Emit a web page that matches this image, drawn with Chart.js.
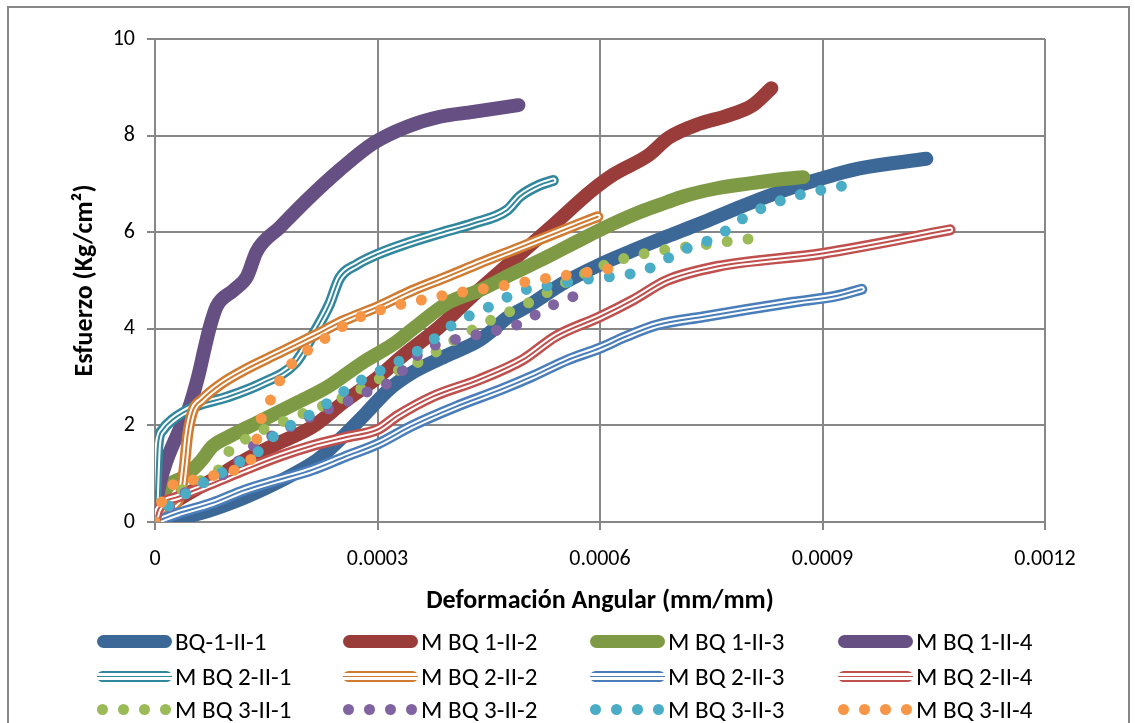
<!DOCTYPE html>
<html>
<head>
<meta charset="utf-8">
<script src="https://cdn.jsdelivr.net/npm/chart.js@4.4.0/dist/chart.umd.min.js"></script>
<style>
  body { margin: 0; background: #fff; }
  #wrap { position: relative; width: 1135px; height: 723px; overflow: hidden; font-family: Carlito, Calibri, Lato, sans-serif; }
  #frame { position: absolute; left: 7px; top: 6px; width: 1119px; height: 760px; border: 2px solid #878787; }
  #chart { position: absolute; left: 0; top: 0; }
  .item { position: absolute; height: 30px; display: flex; align-items: center; font-size: 25px; color: #000; white-space: nowrap; }
  .sample { position: relative; width: 75px; margin-right: 3px; flex-shrink: 0; }
  .dot { position: absolute; top: 0; width: 11px; height: 11px; border-radius: 50%; }
</style>
</head>
<body>
<div id="wrap">
  <div id="frame"></div>
  <canvas id="chart" width="1135" height="723"></canvas>
  <div id="legend"></div>
</div>
<script>
// series names, in legend order
const seriesNames = [
  "BQ-1-II-1", "M BQ 1-II-2", "M BQ 1-II-3", "M BQ 1-II-4",
  "M BQ 2-II-1", "M BQ 2-II-2", "M BQ 2-II-3", "M BQ 2-II-4",
  "M BQ 3-II-1", "M BQ 3-II-2", "M BQ 3-II-3", "M BQ 3-II-4",
];

// deformación angular (mm/mm) / esfuerzo (Kg/cm2)
const xBQ1_1 = [0, 0.00003, 0.00007, 0.00012, 0.00016, 0.00019, 0.00022, 0.00025, 0.000285, 0.000315, 0.00035, 0.000394, 0.000436, 0.000456, 0.000474, 0.000506, 0.00055, 0.000596, 0.000644, 0.00069, 0.000735, 0.000779, 0.000825, 0.00087, 0.000914, 0.00095, 0.00104];
const yBQ1_1 = [0, 0.07, 0.22, 0.5, 0.78, 1.02, 1.3, 1.72, 2.26, 2.74, 3.12, 3.45, 3.75, 3.98, 4.22, 4.5, 4.94, 5.3, 5.62, 5.91, 6.18, 6.46, 6.74, 6.98, 7.18, 7.32, 7.52];

const xBQ1_2 = [0, 0.000004, 0.000031, 0.000077, 0.000121, 0.000166, 0.000212, 0.000256, 0.000301, 0.00033, 0.000382, 0.000433, 0.000485, 0.000537, 0.000588, 0.000619, 0.000666, 0.000692, 0.000735, 0.000769, 0.000805, 0.000831];
const yBQ1_2 = [0, 0.18, 0.46, 0.87, 1.28, 1.63, 1.97, 2.5, 3.0, 3.39, 4.02, 4.75, 5.45, 6.15, 6.85, 7.2, 7.6, 7.95, 8.25, 8.4, 8.62, 8.98];

const xBQ1_3 = [0, 0.000004, 0.000017, 0.00004, 0.000063, 0.000077, 0.0001, 0.000145, 0.00019, 0.000233, 0.000279, 0.000323, 0.000348, 0.000394, 0.000438, 0.000483, 0.000529, 0.000573, 0.000618, 0.000654, 0.00069, 0.000712, 0.000758, 0.000802, 0.000847, 0.000874];
const yBQ1_3 = [0, 0.3, 0.73, 0.94, 1.28, 1.56, 1.77, 2.11, 2.46, 2.8, 3.29, 3.7, 4.0, 4.53, 4.8, 5.15, 5.49, 5.84, 6.18, 6.42, 6.62, 6.74, 6.91, 7.01, 7.1, 7.14];

const xBQ1_4 = [0, 0.000004, 0.000013, 0.000031, 0.000045, 0.000058, 0.000067, 0.000074, 0.000083, 0.000106, 0.000124, 0.000137, 0.000169, 0.000205, 0.000249, 0.000294, 0.000339, 0.000384, 0.000429, 0.00049];
const yBQ1_4 = [0, 0.6, 1.15, 1.84, 2.32, 3.0, 3.6, 4.04, 4.46, 4.8, 5.08, 5.6, 6.11, 6.67, 7.29, 7.84, 8.18, 8.39, 8.49, 8.63];

const xBQ2_1 = [0, 0.000002, 0.000004, 0.00001, 0.000023, 0.000054, 0.000098, 0.000144, 0.000189, 0.000212, 0.000235, 0.000249, 0.000272, 0.000301, 0.00034, 0.000384, 0.000429, 0.000475, 0.000492, 0.000519, 0.000537];
const yBQ2_1 = [0, 0.9, 1.6, 1.9, 2.11, 2.39, 2.59, 2.87, 3.29, 3.85, 4.5, 5.05, 5.33, 5.55, 5.77, 5.98, 6.18, 6.46, 6.74, 6.98, 7.07];

const xBQ2_2 = [0, 0.00002, 0.000035, 0.00004, 0.000044, 0.000051, 0.000063, 0.00009, 0.000121, 0.000166, 0.000212, 0.000256, 0.000301, 0.000348, 0.000394, 0.000438, 0.000483, 0.000529, 0.000573, 0.000597];
const yBQ2_2 = [0, 0.3, 0.6, 1.2, 1.8, 2.3, 2.53, 2.87, 3.15, 3.49, 3.84, 4.18, 4.46, 4.8, 5.08, 5.36, 5.63, 5.91, 6.18, 6.32];

const xBQ2_3 = [0, 0.000031, 0.000077, 0.000121, 0.000166, 0.000212, 0.000256, 0.000301, 0.000345, 0.000406, 0.000466, 0.000508, 0.000557, 0.0006, 0.000635, 0.000677, 0.00074, 0.000798, 0.00086, 0.000919, 0.000953];
const yBQ2_3 = [0, 0.18, 0.39, 0.66, 0.87, 1.08, 1.35, 1.62, 1.98, 2.39, 2.74, 3.01, 3.36, 3.6, 3.84, 4.08, 4.25, 4.4, 4.55, 4.68, 4.82];

const xBQ2_4 = [0, 0.000004, 0.000031, 0.000077, 0.000121, 0.000166, 0.000212, 0.000256, 0.000301, 0.000327, 0.000375, 0.000436, 0.000496, 0.00054, 0.0006, 0.000645, 0.00069, 0.000758, 0.0009, 0.001072];
const yBQ2_4 = [0, 0.25, 0.52, 0.8, 1.08, 1.35, 1.58, 1.75, 1.92, 2.2, 2.6, 2.94, 3.36, 3.84, 4.25, 4.6, 5.0, 5.29, 5.56, 6.05];

const xBQ3_1 = [0, 0.000036, 0.000063, 0.000088, 0.000101, 0.000125, 0.000152, 0.000178, 0.000205, 0.000229, 0.000256, 0.000283, 0.000307, 0.000334, 0.000361, 0.000387, 0.000411, 0.000436, 0.000462, 0.000488, 0.000515, 0.000539, 0.000564, 0.000591, 0.000618, 0.000644, 0.000674, 0.000702, 0.000731, 0.000759, 0.000789, 0.000817, 0.000822];
const yBQ3_1 = [0, 0.66, 0.87, 1.12, 1.49, 1.74, 1.95, 2.11, 2.28, 2.42, 2.59, 2.8, 3.0, 3.18, 3.35, 3.6, 3.84, 4.04, 4.25, 4.42, 4.63, 4.84, 5.04, 5.22, 5.39, 5.5, 5.6, 5.67, 5.72, 5.78, 5.84, 5.89, 5.9];

const xBQ3_2 = [0, 0.00004, 0.000067, 0.000094, 0.000135, 0.00016, 0.00021, 0.000237, 0.000264, 0.000291, 0.000317, 0.000357, 0.000384, 0.000411, 0.00044, 0.000469, 0.000496, 0.00052, 0.000546, 0.000573, 0.000578];
const yBQ3_2 = [0, 0.6, 0.83, 1.0, 1.6, 1.8, 2.18, 2.36, 2.53, 2.73, 2.9, 3.49, 3.7, 3.8, 3.9, 4.0, 4.13, 4.36, 4.56, 4.72, 4.75];

const xBQ3_3 = [0, 0.00002, 0.000043, 0.000067, 0.000092, 0.000117, 0.000142, 0.000162, 0.000186, 0.000212, 0.000236, 0.000259, 0.000283, 0.00031, 0.000334, 0.00036, 0.000383, 0.000406, 0.000431, 0.000458, 0.000483, 0.00051, 0.000538, 0.000568, 0.000596, 0.000624, 0.000653, 0.00068, 0.000704, 0.000731, 0.000758, 0.000781, 0.000805, 0.000832, 0.000858, 0.000886, 0.000914, 0.000943, 0.000948];
const yBQ3_3 = [0, 0.35, 0.6, 0.83, 1.04, 1.27, 1.49, 1.8, 2.03, 2.25, 2.5, 2.75, 2.98, 3.18, 3.37, 3.6, 3.87, 4.13, 4.32, 4.51, 4.72, 4.85, 4.91, 5.0, 5.05, 5.1, 5.18, 5.35, 5.58, 5.74, 5.91, 6.16, 6.4, 6.58, 6.73, 6.83, 6.92, 7.0, 7.01];

const xBQ3_4 = [0, 0.000009, 0.000024, 0.000051, 0.000081, 0.000108, 0.000131, 0.000138, 0.000144, 0.000158, 0.00017, 0.000187, 0.00021, 0.000233, 0.000258, 0.000283, 0.00031, 0.000338, 0.000367, 0.000395, 0.000423, 0.000452, 0.000481, 0.00051, 0.000537, 0.000566, 0.000595, 0.000623, 0.000628];
const yBQ3_4 = [0, 0.42, 0.77, 0.87, 0.97, 1.08, 1.35, 1.77, 2.18, 2.59, 2.98, 3.32, 3.6, 3.84, 4.1, 4.29, 4.42, 4.53, 4.62, 4.71, 4.78, 4.85, 4.92, 5.0, 5.07, 5.13, 5.2, 5.27, 5.28];

const xValues = [xBQ1_1, xBQ1_2, xBQ1_3, xBQ1_4, xBQ2_1, xBQ2_2, xBQ2_3, xBQ2_4, xBQ3_1, xBQ3_2, xBQ3_3, xBQ3_4];
const yValues = [yBQ1_1, yBQ1_2, yBQ1_3, yBQ1_4, yBQ2_1, yBQ2_2, yBQ2_3, yBQ2_4, yBQ3_1, yBQ3_2, yBQ3_3, yBQ3_4];

// tick labels
const xTicks = [0, 0.0003, 0.0006, 0.0009, 0.0012];
const yTicks = [0, 2, 4, 6, 8, 10];

// looks
const colors = [
  "#3c6898", "#9a3c39", "#7e9a45", "#664f82",
  "#31879d", "#d07b30", "#4a7ebb", "#c0504d",
  "#9bbb59", "#8064a2", "#4bacc6", "#f79646",
];
const kinds = ["solid", "solid", "solid", "solid", "double", "double", "double", "double", "dots", "dots", "dots", "dots"];
const gridColor = "#878787";
const fontFamily = "Carlito, Calibri, Lato, sans-serif";

const datasets = [];
seriesNames.forEach((name, i) => {
  const pts = xValues[i].map((v, k) => ({ x: v, y: yValues[i][k] }));
  const base = {
    label: name,
    data: pts,
    showLine: true,
    pointRadius: 0,
    pointHoverRadius: 0,
    borderColor: colors[i],
    backgroundColor: colors[i],
    cubicInterpolationMode: "monotone",
    borderCapStyle: "round",
    borderJoinStyle: "round",
    order: 100 - 3 * i,
  };
  if (kinds[i] === "solid") {
    datasets.push({ ...base, borderWidth: 14 });
  } else if (kinds[i] === "double") {
    // compound line: colour, white, thin colour core
    datasets.push({ ...base, borderWidth: 11 });
    datasets.push({ ...base, label: "", borderColor: "#fff", borderWidth: 6, order: 100 - 3 * i - 1 });
    datasets.push({ ...base, label: "", borderWidth: 2, order: 100 - 3 * i - 2 });
  } else {
    datasets.push({ ...base, borderWidth: 11, borderDash: [0, 21] });
  }
});

new Chart(document.getElementById("chart"), {
  type: "scatter",
  data: { datasets },
  options: {
    responsive: false,
    animation: false,
    devicePixelRatio: 1,
    layout: { padding: { left: 0, top: 39, right: 90, bottom: 106 } },
    plugins: { legend: { display: false }, tooltip: { enabled: false } },
    scales: {
      x: {
        type: "linear",
        min: 0,
        max: 0.0012,
        afterBuildTicks: (scale) => { scale.ticks = xTicks.map((v) => ({ value: v })); },
        afterFit: (scale) => { scale.height = 95; },
        ticks: {
          color: "#000",
          padding: 16,
          font: { family: fontFamily, size: 22 },
          callback: (v) => (v === 0 ? "0" : v.toFixed(4)),
        },
        grid: { color: gridColor, lineWidth: 2, tickLength: 8 },
        border: { color: gridColor, width: 2 },
        title: {
          display: true,
          text: "Deformación Angular (mm/mm)",
          color: "#000",
          font: { family: fontFamily, size: 26, weight: "bold" },
          padding: { top: 0, bottom: 0 },
        },
      },
      y: {
        min: 0,
        max: 10,
        afterBuildTicks: (scale) => { scale.ticks = yTicks.map((v) => ({ value: v })); },
        afterFit: (scale) => { scale.width = 155; },
        ticks: {
          color: "#000",
          padding: 12,
          font: { family: fontFamily, size: 22 },
        },
        grid: { color: gridColor, lineWidth: 2, tickLength: 8 },
        border: { color: gridColor, width: 2 },
        title: {
          display: true,
          text: "Esfuerzo (Kg/cm²)",
          color: "#000",
          font: { family: fontFamily, size: 26, weight: "bold" },
          padding: { top: 70, bottom: 0 },
        },
      },
    },
  },
});

// legend, 4 columns x 3 rows like the spreadsheet one
const legend = document.getElementById("legend");
const colX = [97, 343, 590, 838];
const rowY = [641, 676, 709];
seriesNames.forEach((name, i) => {
  const item = document.createElement("div");
  item.className = "item";
  item.style.left = colX[i % 4] + "px";
  item.style.top = rowY[Math.floor(i / 4)] - 15 + "px";

  const sample = document.createElement("div");
  sample.className = "sample";
  const c = colors[i];
  if (kinds[i] === "solid") {
    sample.style.height = "13px";
    sample.style.borderRadius = "7px";
    sample.style.background = c;
  } else if (kinds[i] === "double") {
    sample.style.height = "11px";
    sample.style.borderRadius = "6px";
    sample.style.background =
      `linear-gradient(to bottom, ${c} 0 22%, #fff 22% 41%, ${c} 41% 59%, #fff 59% 78%, ${c} 78% 100%)`;
  } else {
    sample.style.height = "11px";
    for (let k = 0; k < 4; k++) {
      const d = document.createElement("span");
      d.className = "dot";
      d.style.left = k * 21 + "px";
      d.style.background = c;
      sample.appendChild(d);
    }
  }
  item.appendChild(sample);
  item.appendChild(document.createTextNode(name));
  legend.appendChild(item);
});
</script>
</body>
</html>
